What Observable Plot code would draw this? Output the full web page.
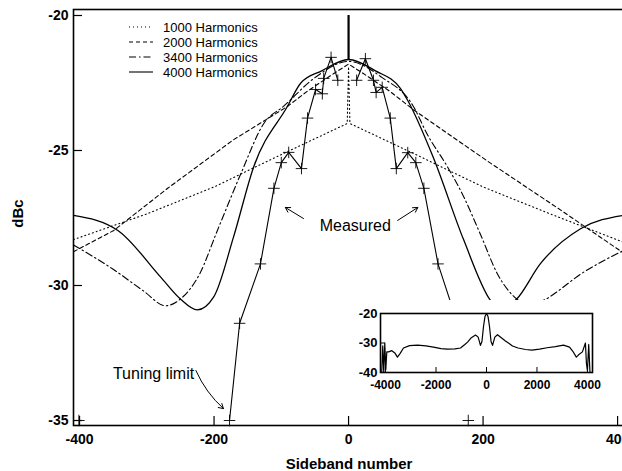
<!DOCTYPE html>
<html><head><meta charset="utf-8">
<script src="https://cdn.jsdelivr.net/npm/d3@7"></script>
<script src="https://cdn.jsdelivr.net/npm/@observablehq/plot@0.6"></script>
<style>
html,body{margin:0;padding:0;background:#fff;overflow:hidden;}
#wrap{position:relative;width:622px;height:471px;overflow:hidden;font-family:"Liberation Sans",Arial,sans-serif;background:#fff;}
#main{position:absolute;left:0;top:0;}
#inset{position:absolute;left:343px;top:300px;}
#legend{position:absolute;left:0;top:0;color:#000;}
#legend .row{position:absolute;left:129px;height:16px;display:flex;align-items:center;white-space:nowrap;font-family:"Liberation Sans",Arial,sans-serif;font-size:13px;}
#legend svg{margin-right:10px;}
</style></head>
<body><div id="wrap"><div id="main"></div><div id="inset"></div><div id="legend"></div></div>
<script>
// ---------- data ----------
const xTicks = [-400, -200, 0, 200, 400];
const yTicks = [-35, -30, -25, -20];

const h1000X = [-409, -300, -200, -100, -2, 0, 2, 100, 200, 300, 409];
const h1000Y = [-28.3, -27.35, -26.35, -25.15, -24.0, -21.9, -24.0, -25.15, -26.35, -27.35, -28.4];

const h2000X = [-409, -349, -269, -171, -91, -61, -22, 0, 22, 61, 97, 207, 315, 409];
const h2000Y = [-28.75, -27.96, -26.4, -24.6, -23.37, -22.8, -22.15, -21.8, -22.15, -22.8, -23.5, -25.4, -27.2, -28.8];

const h3400X = [-409, -350, -305, -272, -250, -222, -195, -160, -126, -96, -50, 0, 50, 96, 117, 147, 171, 196, 222, 250, 272, 290, 350, 409];
const h3400Y = [-28.5, -29.4, -30.2, -30.75, -30.5, -29.6, -27.96, -25.85, -24.0, -23.35, -22.3, -21.7, -22.3, -23.35, -24.4, -25.6, -26.7, -28.1, -29.6, -30.5, -30.75, -30.55, -29.5, -28.7];

const h4000X = [-409, -343, -279, -250, -225, -200, -171, -141, -91, -71, -40, 0, 40, 77, 88, 126, 171, 211, 225, 250, 285, 345, 409];
const h4000Y = [-27.4, -27.96, -29.7, -30.5, -30.9, -30.4, -28.2, -25.6, -23.37, -22.5, -22.05, -21.63, -22.05, -22.7, -23.15, -25.26, -28.3, -30.55, -30.9, -30.5, -29.2, -27.9, -27.4];

const measLeftX = [-177, -162, -131, -111, -100, -89, -70, -61, -49, -39, -37, -26, -16];
const measLeftY = [-35, -31.4, -29.2, -26.4, -25.45, -25.07, -25.67, -23.8, -22.74, -22.9, -22.33, -21.55, -22.4];
const measRightX = [12, 25, 37, 41, 50, 62, 71, 88, 100, 112, 133, 162];
const measRightY = [-22.4, -21.6, -22.4, -22.85, -22.66, -23.8, -25.67, -25.08, -25.45, -26.4, -29.2, -31.4];
const limitX = [-401, 178];
const limitY = [-35, -35];

const carrierX = [0];
const carrierLow = [-21.63];
const carrierHigh = [-20];

const legendLabels = ["1000 Harmonics", "2000 Harmonics", "3400 Harmonics", "4000 Harmonics"];

const noteText = ["Measured", "Tuning limit"];
const noteX = [10, -290];
const noteY = [-27.8, -33.27];
const arrowX1 = [-67, 73];
const arrowY1 = [-27.52, -27.59];
const arrowX2 = [-94, 103];
const arrowY2 = [-27.11, -27.11];
const tuneArrowX1 = [-227];
const tuneArrowY1 = [-33.15];
const tuneArrowX2 = [-186];
const tuneArrowY2 = [-34.56];

const insetXTicks = [-4000, -2000, 0, 2000, 4000];
const insetYTicks = [-40, -30, -20];
const insetX = [-4150,-4110,-4070,-4030,-3990,-3950,-3880,-3750,-3620,-3530,-3420,-3290,-3050,-2730,-2400,-2100,-1800,-1545,-1250,-1030,-870,-750,-600,-435,-330,-240,-180,-120,-60,0,60,120,180,240,330,435,600,750,870,1030,1250,1545,1800,2100,2400,2730,3050,3290,3420,3560,3650,3800,3920,3960,4000,4050,4100,4150];
const insetY = [-40,-31,-40,-30,-39,-33,-33,-32.6,-33.5,-34.8,-33.5,-31.7,-30.9,-30.7,-31.0,-31.4,-31.9,-32.1,-32.0,-31.7,-30.6,-29.7,-28.2,-27.3,-28.0,-30.8,-29.5,-24.5,-21.0,-20.0,-21.0,-24.5,-29.5,-30.8,-28.0,-27.2,-28.3,-29.3,-30.0,-31.0,-31.7,-32.2,-32.4,-32.1,-31.6,-31.2,-30.7,-31.4,-32.8,-34.8,-34.0,-33.0,-30.0,-37,-39.3,-30.5,-40,-40];

// ---------- build ----------
const pts = (xs, ys) => xs.map((x, i) => ({x, y: ys[i]}));
const h1000 = pts(h1000X, h1000Y);
const h2000 = pts(h2000X, h2000Y);
const h3400 = pts(h3400X, h3400Y);
const h4000 = pts(h4000X, h4000Y);
const measLeft = pts(measLeftX, measLeftY);
const measRight = pts(measRightX, measRightY);
const limits = pts(limitX, limitY);
const carrier = carrierX.map((x, i) => ({x, y1: carrierLow[i], y2: carrierHigh[i]}));
const notes = noteText.map((t, i) => ({t, x: noteX[i], y: noteY[i]}));
const arrows = arrowX1.map((x, i) => ({x1: x, y1: arrowY1[i], x2: arrowX2[i], y2: arrowY2[i]}));
const tuneArrow = tuneArrowX1.map((x, i) => ({x1: x, y1: tuneArrowY1[i], x2: tuneArrowX2[i], y2: tuneArrowY2[i]}));
const insetPts = pts(insetX, insetY);

const dashes = ["1,3", "4,3", "7,3,1.5,3", null];
const FONT = "'Liberation Sans', Arial, Helvetica, sans-serif";
const fmt = d => String(d);

const main = Plot.plot({
  width: 622, height: 471,
  marginLeft: 73, marginRight: -2, marginTop: 9, marginBottom: 46,
  x: {domain: [-409, 410.3]},
  y: {domain: [-35.185, -19.778]},
  style: {fontFamily: FONT, fontSize: "14px", background: "white", color: "black"},
  marks: [
    Plot.line(h1000, {x: "x", y: "y", stroke: "black", strokeWidth: 1.1, strokeDasharray: dashes[0], clip: true}),
    Plot.line(h2000, {x: "x", y: "y", stroke: "black", strokeWidth: 1.1, strokeDasharray: dashes[1], clip: true}),
    Plot.line(h3400, {x: "x", y: "y", stroke: "black", strokeWidth: 1.1, strokeDasharray: dashes[2], curve: "monotone-x", clip: true}),
    Plot.line(h4000, {x: "x", y: "y", stroke: "black", strokeWidth: 1.3, curve: "monotone-x", clip: true}),
    Plot.line(measLeft, {x: "x", y: "y", stroke: "black", strokeWidth: 1.1}),
    Plot.line(measRight, {x: "x", y: "y", stroke: "black", strokeWidth: 1.1}),
    Plot.dot(measLeft, {x: "x", y: "y", symbol: "plus", r: 3.8, stroke: "black", strokeWidth: 0.9}),
    Plot.dot(measRight, {x: "x", y: "y", symbol: "plus", r: 3.8, stroke: "black", strokeWidth: 0.9}),
    Plot.dot(limits, {x: "x", y: "y", symbol: "plus", r: 3.8, stroke: "black", strokeWidth: 0.9}),
    Plot.ruleX(carrier, {x: "x", y1: "y1", y2: "y2", stroke: "black", strokeWidth: 2.2}),
    Plot.text(notes, {x: "x", y: "y", text: "t", fontSize: 16, fill: "black"}),
    Plot.arrow(arrows, {x1: "x1", y1: "y1", x2: "x2", y2: "y2", stroke: "black", strokeWidth: 1, headLength: 8, bend: 0}),
    Plot.arrow(tuneArrow, {x1: "x1", y1: "y1", x2: "x2", y2: "y2", stroke: "black", strokeWidth: 1, headLength: 8, bend: -12}),
    Plot.axisX({ticks: xTicks, tickSize: 9, dy: -9, tickFormat: () => "", label: null, strokeWidth: 1.2}),
    Plot.axisX({ticks: xTicks, tickSize: 0, tickPadding: 9, tickFormat: fmt, label: null, fill: "black", fontWeight: "bold", fontSize: 14}),
    Plot.axisY({ticks: yTicks, tickSize: 9, dx: 9, tickFormat: () => "", label: null, strokeWidth: 1.2}),
    Plot.axisY({ticks: yTicks, tickSize: 0, tickPadding: 5, tickFormat: fmt, label: null, fill: "black", fontWeight: "bold", fontSize: 14}),
    Plot.text(["Sideband number"], {frameAnchor: "bottom", lineAnchor: "middle", textAnchor: "middle", dy: 39, fontSize: 15, fontWeight: "bold", fill: "black"}),
    Plot.text(["dBc"], {frameAnchor: "left", lineAnchor: "middle", textAnchor: "middle", dx: -55, dy: -4, rotate: -90, fontSize: 15, fontWeight: "bold", fill: "black"}),
    Plot.frame({stroke: "black", strokeWidth: 1.6})
  ]
});
document.getElementById("main").appendChild(main);

const inset = Plot.plot({
  width: 272, height: 100,
  marginLeft: 37, marginRight: 23, marginTop: 13, marginBottom: 28,
  x: {domain: [-4200, 4200]},
  y: {domain: [-40, -20]},
  style: {fontFamily: FONT, fontSize: "12px", background: "white", color: "black"},
  marks: [
    Plot.line(insetPts, {x: "x", y: "y", stroke: "black", strokeWidth: 1.2, clip: true}),
    Plot.axisX({ticks: insetXTicks, tickSize: 5, dy: -5, tickFormat: () => "", label: null}),
    Plot.axisX({ticks: insetXTicks, tickSize: 0, tickPadding: 8, tickFormat: fmt, label: null, fill: "black", fontWeight: "bold", fontSize: 12}),
    Plot.axisY({ticks: insetYTicks, tickSize: 5, dx: 5, tickFormat: () => "", label: null}),
    Plot.axisY({ticks: insetYTicks, tickSize: 0, tickPadding: 3, tickFormat: fmt, label: null, fill: "black", fontWeight: "bold", fontSize: 13}),
    Plot.frame({stroke: "black", strokeWidth: 1.6})
  ]
});
document.getElementById("inset").appendChild(inset);

// make every text in the plots bold except the two annotations
for (const svg of [main, inset]) {
  d3.select(svg).selectAll("text").each(function() {
    const t = this.textContent;
    this.style.fontWeight = noteText.includes(t) ? "normal" : "bold";
  });
}

// legend
const legend = document.getElementById("legend");
const rowCenters = [27, 42, 57, 72];
legendLabels.forEach((lab, i) => {
  const row = document.createElement("div");
  row.className = "row";
  row.style.top = (rowCenters[i] - 8) + "px";
  const dash = dashes[i] ? ` stroke-dasharray="${dashes[i]}"` : "";
  row.innerHTML = `<svg width="24" height="10"><line x1="0" y1="5" x2="24" y2="5" stroke="black" stroke-width="1.1"${dash}/></svg><span>${lab}</span>`;
  legend.appendChild(row);
});
</script></body></html>
